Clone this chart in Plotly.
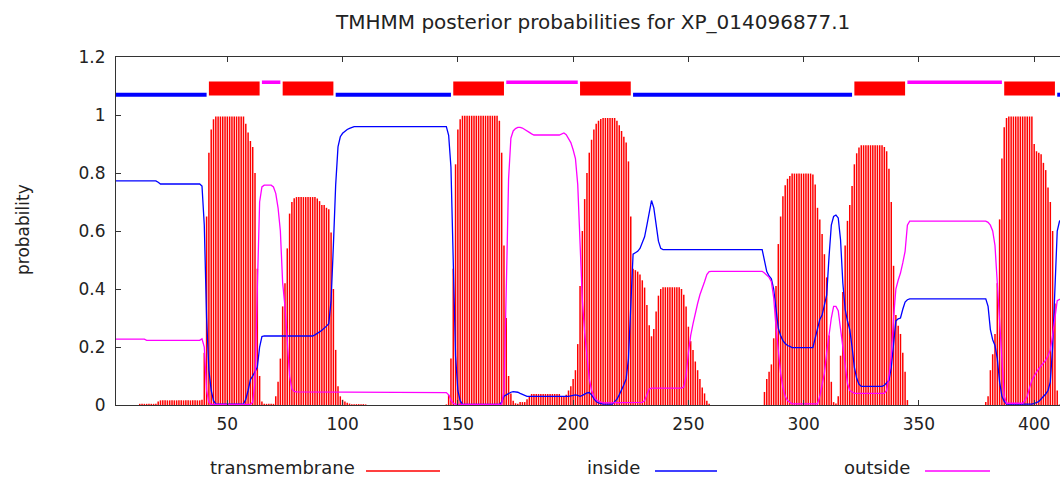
import plotly.graph_objects as go

# ---------------- data ----------------
TITLE = "TMHMM posterior probabilities for XP_014096877.1"

# transmembrane posterior probability, one value per residue 1..412
tm_prob = [
    0, 0, 0, 0, 0, 0, 0, 0, 0, 0,
    0, 0.004, 0.004, 0.004, 0.004, 0.004, 0.004, 0.004, 0.004, 0.012,
    0.016, 0.016, 0.016, 0.016, 0.016, 0.016, 0.016, 0.016, 0.016, 0.016,
    0.016, 0.016, 0.016, 0.016, 0.016, 0.016, 0.016, 0.016, 0.018, 0.18,
    0.65, 0.87, 0.95, 0.985, 0.995, 0.995, 0.995, 0.995, 0.995, 0.995,
    0.995, 0.995, 0.995, 0.995, 0.995, 0.995, 0.995, 0.97, 0.94, 0.91,
    0.89, 0.80, 0.47, 0.10, 0.012, 0.004, 0.004, 0.004, 0.004, 0.004,
    0.03, 0.08, 0.16, 0.34, 0.42, 0.54, 0.66, 0.70, 0.713, 0.717,
    0.717, 0.717, 0.717, 0.717, 0.717, 0.717, 0.717, 0.717, 0.712, 0.703,
    0.69, 0.69, 0.68, 0.675, 0.595, 0.40, 0.19, 0.065, 0.03, 0.018,
    0.012, 0.008, 0.005, 0.003, 0.003, 0.003, 0.003, 0.003, 0.003, 0.002,
    0, 0, 0, 0, 0, 0, 0, 0, 0, 0,
    0, 0, 0, 0, 0, 0, 0, 0, 0, 0,
    0, 0, 0, 0, 0, 0, 0, 0, 0, 0,
    0, 0, 0, 0, 0.002, 0.035, 0.16, 0.47, 0.83, 0.95,
    0.985, 0.997, 0.997, 0.997, 0.997, 0.997, 0.997, 0.997, 0.997, 0.997,
    0.997, 0.997, 0.997, 0.997, 0.997, 0.997, 0.997, 0.98, 0.87, 0.55,
    0.30, 0.10, 0.04, 0.015, 0.006, 0.004, 0.01, 0.01, 0.01, 0.02,
    0.028, 0.038, 0.038, 0.038, 0.038, 0.038, 0.038, 0.038, 0.038, 0.038,
    0.038, 0.038, 0.038, 0.038, 0.03, 0.03, 0.035, 0.05, 0.065, 0.09,
    0.12, 0.21, 0.41, 0.60, 0.71, 0.80, 0.87, 0.915, 0.95, 0.97,
    0.98, 0.986, 0.99, 0.99, 0.99, 0.99, 0.99, 0.99, 0.98, 0.965,
    0.945, 0.925, 0.905, 0.84, 0.65, 0.47, 0.465, 0.46, 0.45, 0.43,
    0.405, 0.345, 0.275, 0.237, 0.262, 0.322, 0.377, 0.40, 0.406, 0.406,
    0.406, 0.406, 0.406, 0.406, 0.406, 0.406, 0.40, 0.38, 0.34, 0.27,
    0.22, 0.19, 0.15, 0.12, 0.09, 0.06, 0.04, 0.015, 0.004, 0,
    0, 0, 0, 0, 0, 0, 0, 0, 0, 0,
    0, 0, 0, 0, 0, 0, 0, 0, 0, 0,
    0, 0, 0.045, 0.09, 0.115, 0.14, 0.23, 0.41, 0.555, 0.65,
    0.72, 0.758, 0.78, 0.79, 0.798, 0.798, 0.798, 0.798, 0.798, 0.798,
    0.798, 0.798, 0.798, 0.795, 0.76, 0.68, 0.64, 0.59, 0.52, 0.44,
    0.24, 0.08, 0.01, 0.005, 0.03, 0.17, 0.39, 0.55, 0.635, 0.69,
    0.755, 0.83, 0.868, 0.888, 0.896, 0.896, 0.896, 0.896, 0.896, 0.896,
    0.896, 0.896, 0.896, 0.896, 0.89, 0.875, 0.815, 0.70, 0.48, 0.31,
    0.273, 0.245, 0.18, 0.115, 0.017, 0, 0, 0, 0, 0,
    0, 0, 0, 0, 0, 0, 0, 0, 0, 0,
    0, 0, 0, 0, 0, 0, 0, 0, 0, 0,
    0, 0, 0, 0, 0, 0, 0, 0, 0.01, 0.03,
    0.12, 0.175, 0.245, 0.42, 0.64, 0.85, 0.958, 0.99, 0.995, 0.995,
    0.995, 0.995, 0.995, 0.995, 0.995, 0.995, 0.995, 0.995, 0.995, 0.90,
    0.875, 0.87, 0.865, 0.835, 0.81, 0.75, 0.70, 0.60, 0.35, 0.05,
    0.002, 0,
]
residues = list(range(1, len(tm_prob) + 1))

# inside probability: residue positions where the curve changes, and values
inside_pos = [1, 19, 20, 21, 38, 39, 40, 41, 42, 43, 44, 45, 57, 58, 59, 60, 61, 62, 63, 64,
              65, 66, 87, 88, 89, 90, 91, 92, 93, 94, 95, 96, 97, 98, 99, 100, 101, 102, 103, 104,
              105, 145, 146, 147, 148, 149, 150, 151, 152, 168, 169, 170, 171, 172, 173, 174, 175, 176, 177, 178,
              179, 180, 198, 199, 200, 201, 202, 203, 204, 205, 206, 207, 208, 209, 210, 211, 212, 213, 217, 218,
              219, 220, 221, 222, 223, 224, 225, 226, 227, 228, 229, 230, 231, 232, 233, 234, 235, 236, 237, 238,
              239, 282, 283, 284, 285, 286, 287, 288, 289, 290, 291, 292, 293, 294, 295, 304, 305, 306, 307, 308,
              309, 310, 311, 312, 313, 314, 315, 316, 317, 318, 319, 320, 321, 322, 323, 324, 325, 334, 335, 336,
              337, 338, 339, 340, 341, 342, 343, 344, 345, 346, 379, 380, 381, 382, 383, 384, 385, 386, 387, 388,
              399, 400, 401, 402, 403, 404, 405, 406, 407, 408, 409, 410, 411, 412]
inside_val = [0.773, 0.773, 0.768, 0.762, 0.762, 0.755, 0.62, 0.30, 0.12, 0.05, 0.015, 0.003, 0.003, 0.02, 0.05, 0.087, 0.10, 0.115, 0.13, 0.20,
              0.236, 0.238, 0.238, 0.242, 0.246, 0.252, 0.258, 0.264, 0.272, 0.28, 0.36, 0.55, 0.76, 0.89, 0.925, 0.937, 0.945, 0.95, 0.954, 0.957,
              0.96, 0.96, 0.93, 0.82, 0.52, 0.17, 0.05, 0.015, 0.002, 0.002, 0.01, 0.03, 0.035, 0.04, 0.044, 0.046, 0.046, 0.044, 0.04, 0.036,
              0.032, 0.03, 0.03, 0.031, 0.033, 0.035, 0.033, 0.03, 0.033, 0.037, 0.042, 0.043, 0.035, 0.022, 0.012, 0.007, 0.004, 0.003, 0.003, 0.01,
              0.02, 0.035, 0.05, 0.07, 0.09, 0.16, 0.34, 0.52, 0.525, 0.53, 0.54, 0.56, 0.58, 0.62, 0.67, 0.705, 0.68, 0.62, 0.565, 0.54,
              0.536, 0.536, 0.50, 0.46, 0.445, 0.435, 0.40, 0.32, 0.265, 0.24, 0.222, 0.212, 0.205, 0.202, 0.198, 0.198, 0.23, 0.27, 0.295, 0.31,
              0.34, 0.38, 0.51, 0.62, 0.65, 0.655, 0.645, 0.57, 0.42, 0.33, 0.29, 0.26, 0.20, 0.13, 0.092, 0.072, 0.064, 0.064, 0.068, 0.075,
              0.085, 0.13, 0.22, 0.29, 0.297, 0.30, 0.33, 0.355, 0.363, 0.366, 0.366, 0.34, 0.26, 0.225, 0.205, 0.16, 0.08, 0.03, 0.012, 0.003,
              0.003, 0.005, 0.008, 0.012, 0.02, 0.028, 0.038, 0.05, 0.08, 0.2, 0.40, 0.60, 0.634, 0.636]

# outside probability
outside_pos = [1, 14, 15, 38, 39, 40, 41, 42, 43, 60, 61, 62, 63, 64, 65, 66, 69, 70, 71, 72,
               73, 74, 75, 76, 77, 78, 79, 80, 145, 146, 147, 148, 149, 169, 170, 171, 172, 173, 174, 175,
               176, 177, 178, 179, 180, 181, 182, 183, 194, 195, 196, 197, 198, 199, 200, 201, 202, 203, 204, 205,
               206, 207, 208, 209, 210, 211, 212, 213, 229, 230, 231, 232, 233, 234, 247, 248, 249, 250, 251, 252,
               253, 254, 255, 256, 257, 258, 259, 260, 282, 283, 284, 285, 286, 287, 288, 289, 290, 291, 292, 293,
               294, 295, 306, 307, 308, 309, 310, 311, 312, 313, 314, 315, 316, 317, 318, 319, 320, 321, 322, 335,
               336, 337, 338, 339, 340, 341, 342, 343, 344, 345, 346, 379, 380, 381, 382, 383, 384, 385, 386, 387,
               388, 395, 396, 397, 398, 399, 400, 401, 402, 403, 404, 405, 406, 407, 408, 409, 410, 411, 412]
outside_val = [0.227, 0.227, 0.223, 0.223, 0.228, 0.20, 0.05, 0.01, 0.002, 0.002, 0.01, 0.08, 0.40, 0.70, 0.752, 0.758, 0.758, 0.752, 0.73, 0.68,
               0.60, 0.42, 0.34, 0.22, 0.10, 0.055, 0.047, 0.045, 0.043, 0.035, 0.017, 0.006, 0.002, 0.002, 0.05, 0.40, 0.78, 0.92, 0.945, 0.953,
               0.957, 0.957, 0.955, 0.95, 0.946, 0.94, 0.935, 0.931, 0.931, 0.935, 0.938, 0.932, 0.92, 0.905, 0.88, 0.85, 0.76, 0.56, 0.36, 0.25,
               0.16, 0.09, 0.05, 0.03, 0.018, 0.013, 0.01, 0.007, 0.007, 0.009, 0.015, 0.035, 0.055, 0.058, 0.058, 0.062, 0.10, 0.18, 0.24, 0.28,
               0.32, 0.35, 0.38, 0.40, 0.425, 0.45, 0.46, 0.461, 0.461, 0.455, 0.448, 0.44, 0.425, 0.37, 0.27, 0.18, 0.11, 0.06, 0.03, 0.015,
               0.008, 0.004, 0.004, 0.03, 0.07, 0.11, 0.18, 0.25, 0.30, 0.34, 0.34, 0.325, 0.26, 0.19, 0.12, 0.075, 0.05, 0.045, 0.04, 0.04,
               0.05, 0.10, 0.17, 0.30, 0.40, 0.43, 0.455, 0.49, 0.53, 0.62, 0.634, 0.634, 0.63, 0.62, 0.60, 0.55, 0.42, 0.28, 0.12, 0.03,
               0.006, 0.006, 0.015, 0.03, 0.06, 0.085, 0.10, 0.115, 0.125, 0.135, 0.145, 0.155, 0.17, 0.19, 0.24, 0.30, 0.36, 0.364, 0.364]

# predicted topology (segment type, first residue, last residue)
topology = [("inside", 1, 41), ("TMhelix", 42, 64), ("outside", 65, 73), ("TMhelix", 74, 96),
            ("inside", 97, 147), ("TMhelix", 148, 170), ("outside", 171, 202), ("TMhelix", 203, 225),
            ("inside", 226, 321), ("TMhelix", 322, 344), ("outside", 345, 386), ("TMhelix", 387, 409),
            ("inside", 410, 412)]
topo_level = {"inside": 1.07, "TMhelix": 1.091, "outside": 1.113}

x_ticks = [50, 100, 150, 200, 250, 300, 350, 400]
y_ticks = [0, 0.2, 0.4, 0.6, 0.8, 1, 1.2]
legend_labels = ["transmembrane", "inside", "outside"]

# ---------------- styling ----------------
RED, BLUE, MAG = "#ff0000", "#0000ff", "#ff00ff"
FONT = "DejaVu Sans"
TXT = "#222222"
W, H = 1060, 481
# plot area in window pixels: left 116, top 57, bottom 405, right beyond the edge
L, R, T, B = 116, 0, 57, H - 405
PW, PH = W - L - R, H - T - B


def px(xw):
    """window x pixel -> paper x"""
    return (xw - L) / PW


def py(yw):
    """window y pixel -> paper y"""
    return (H - B - yw) / PH


fig = go.Figure()

# impulses for the transmembrane probability
ix, iy = [], []
for r, v in zip(residues, tm_prob):
    ix += [r, r, None]
    iy += [0, v, None]
fig.add_trace(go.Scatter(x=ix, y=iy, mode="lines", line=dict(color=RED, width=1.5),
                         hoverinfo="skip", showlegend=False))

fig.add_trace(go.Scatter(x=inside_pos, y=inside_val, mode="lines",
                         line=dict(color=BLUE, width=1.3), showlegend=False))
fig.add_trace(go.Scatter(x=outside_pos, y=outside_val, mode="lines",
                         line=dict(color=MAG, width=1.3), showlegend=False))

# topology bars at the top
style = {"inside": (BLUE, 4), "TMhelix": (RED, 14), "outside": (MAG, 3.5)}
for kind, s, e in topology:
    c, w = style[kind]
    lvl = topo_level[kind]
    fig.add_trace(go.Scatter(x=[s, e], y=[lvl, lvl], mode="lines",
                             line=dict(color=c, width=w), hoverinfo="skip", showlegend=False))

annotations = [
    dict(text=TITLE, x=px(592), y=py(22), xref="paper", yref="paper", showarrow=False,
         xanchor="center", yanchor="middle", font=dict(family=FONT, size=20, color=TXT)),
    dict(text="probability", x=px(23), y=py(230), xref="paper", yref="paper", showarrow=False,
         textangle=-90, xanchor="center", yanchor="middle", font=dict(family=FONT, size=17, color=TXT)),
]
shapes = []
leg_text_right = [357, 642, 912]
leg_line = [(366, 440), (655, 717), (925, 990)]
leg_colors = [RED, BLUE, MAG]
for lab, xr, (a, b), c in zip(legend_labels, leg_text_right, leg_line, leg_colors):
    annotations.append(dict(text=lab, x=px(xr), y=py(467), xref="paper", yref="paper",
                            showarrow=False, xanchor="right", yanchor="middle",
                            font=dict(family=FONT, size=18, color=TXT)))
    shapes.append(dict(type="line", xref="paper", yref="paper", x0=px(a), x1=px(b),
                       y0=py(471), y1=py(471), line=dict(color=c, width=1.3)))

fig.update_layout(
    width=W, height=H,
    margin=dict(l=L, r=R, t=T, b=B, pad=0),
    paper_bgcolor="white", plot_bgcolor="white",
    showlegend=False,
    annotations=annotations, shapes=shapes,
    font=dict(family=FONT, size=17, color=TXT),
)
fig.update_xaxes(range=[1.7, 411.2], tickmode="array", tickvals=x_ticks,
                 ticks="inside", ticklen=5, tickcolor="#333", showline=True, linecolor="#333",
                 linewidth=1, mirror="ticks", showgrid=False, zeroline=False,
                 tickfont=dict(family=FONT, size=17, color=TXT), ticklabelstandoff=4)
fig.update_yaxes(range=[0, 1.2], tickmode="array", tickvals=y_ticks,
                 ticktext=["0", "0.2", "0.4", "0.6", "0.8", "1", "1.2"],
                 ticks="inside", ticklen=5, tickcolor="#333", showline=True, linecolor="#333",
                 linewidth=1, showgrid=False, zeroline=False,
                 tickfont=dict(family=FONT, size=17, color=TXT), ticklabelstandoff=6)

# remove the default page margin so the 1060x481 figure fills the window exactly
fig.write_html("out.html",
               config={"displayModeBar": False},
               post_script="document.body.style.margin='0';document.body.style.overflow='hidden';")
